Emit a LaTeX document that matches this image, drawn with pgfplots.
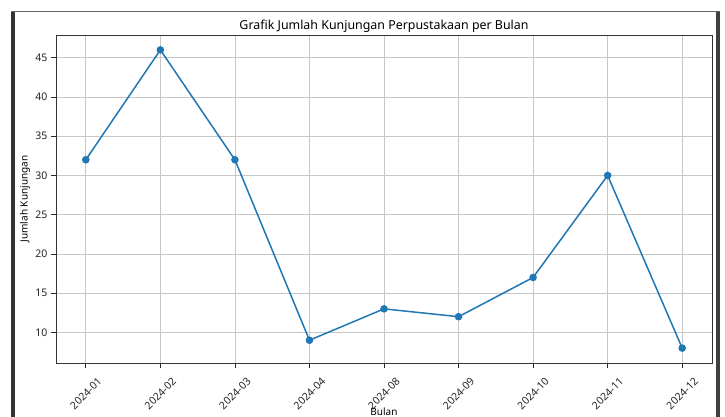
\documentclass[border=0pt]{standalone}
\usepackage{pgfplots}
\pgfplotsset{compat=1.18}
\usepackage{fontspec}
\setmainfont{Noto Sans}
\definecolor{mplblue}{HTML}{1F77B4}
\begin{document}
\begin{tikzpicture}
\path[use as bounding box] (0,0) rectangle (725pt,417pt);
\fill[white] (0,0) rectangle (725pt,417pt);
% screenshot frame
\fill[black!80] (11pt,0) rectangle (15pt,405pt);
\fill[black!75] (716pt,0) rectangle (720pt,405pt);
\draw[black!60, line width=1pt] (11pt,405pt) -- (720pt,405pt);
\begin{axis}[
  at={(56pt,54pt)}, anchor=south west,
  scale only axis, width=656pt, height=328pt,
  xmin=-0.4, xmax=8.4, ymin=6.1, ymax=47.9,
  xtick={0,...,8},
  xticklabels={2024-01,2024-02,2024-03,2024-04,2024-08,2024-09,2024-10,2024-11,2024-12},
  ytick={10,15,...,45},
  xtick pos=left, ytick pos=left,
  grid=major,
  major grid style={draw=black!22, line width=0.8pt},
  tick align=outside,
  major tick length=5pt,
  tick style={black!85, line width=0.8pt},
  axis line style={black!80, line width=0.9pt},
  /pgf/number format/assume math mode=true,
  ticklabel style={font=\fontsize{10.5}{12}\selectfont, text=black!85},
  xticklabel style={rotate=45, anchor=center, xshift=-18pt, yshift=-18pt},
  every axis title shift=0pt,
  title={Grafik Jumlah Kunjungan Perpustakaan per Bulan},
  title style={font=\fontsize{12.4}{14}\selectfont, at={(axis description cs:0.5,1.0274)}, anchor=center},
  xlabel={Bulan},
  xlabel style={font=\fontsize{10}{12}\selectfont, at={(axis description cs:0.5,-0.1494)}, anchor=center},
  ylabel={Jumlah Kunjungan},
  ylabel style={font=\fontsize{10}{12}\selectfont, at={(axis description cs:-0.04726,0.5)}, anchor=center},
]
\addplot[mplblue, line width=1.5pt, mark=*, mark size=3pt, mark options={fill=mplblue, draw=mplblue}]
coordinates {(0,32) (1,46) (2,32) (3,9) (4,13) (5,12) (6,17) (7,30) (8,8)};
\end{axis}
\end{tikzpicture}
\end{document}
